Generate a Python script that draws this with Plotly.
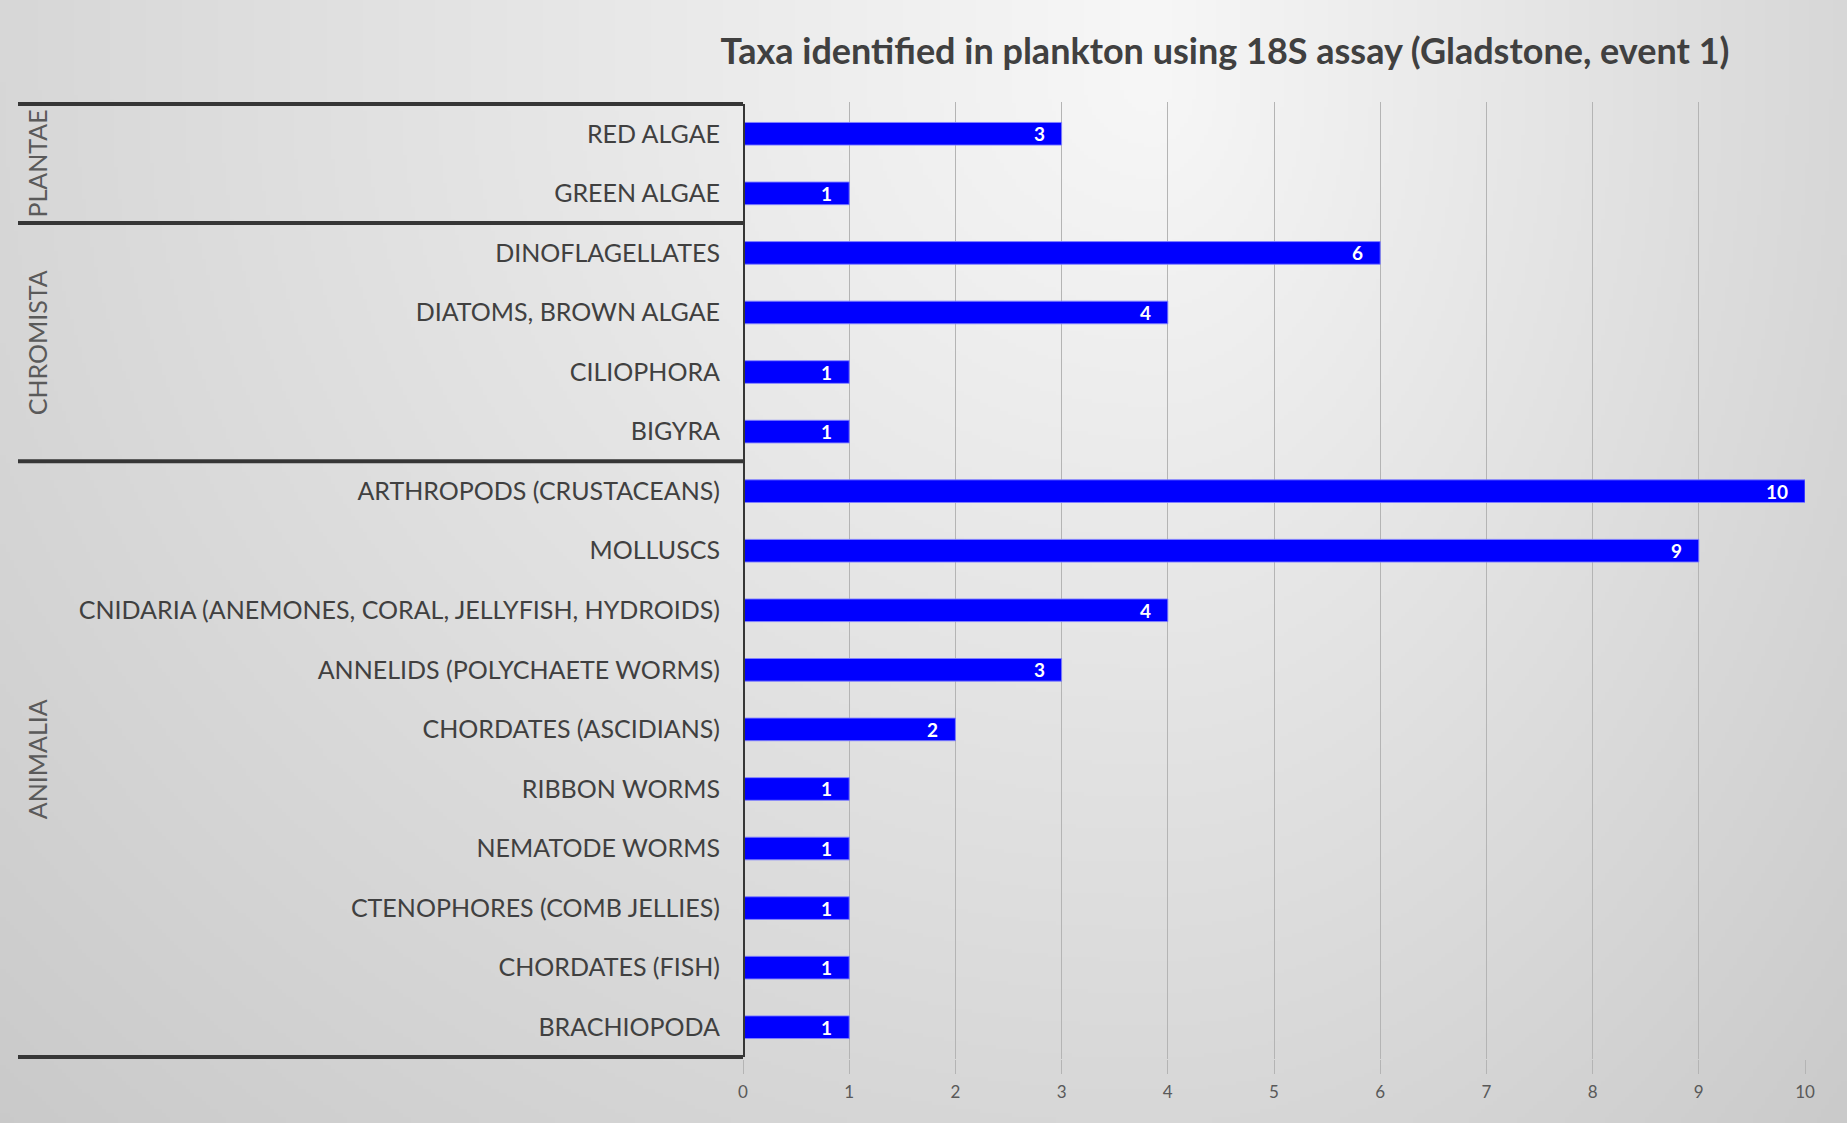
import base64
import struct
import zlib

import numpy as np
import plotly.graph_objects as go

# ---- data -------------------------------------------------------------
taxa = [
    "RED ALGAE",
    "GREEN ALGAE",
    "DINOFLAGELLATES",
    "DIATOMS, BROWN ALGAE",
    "CILIOPHORA",
    "BIGYRA",
    "ARTHROPODS (CRUSTACEANS)",
    "MOLLUSCS",
    "CNIDARIA (ANEMONES, CORAL, JELLYFISH, HYDROIDS)",
    "ANNELIDS (POLYCHAETE WORMS)",
    "CHORDATES (ASCIDIANS)",
    "RIBBON WORMS",
    "NEMATODE WORMS",
    "CTENOPHORES (COMB JELLIES)",
    "CHORDATES (FISH)",
    "BRACHIOPODA",
]
counts = [3, 1, 6, 4, 1, 1, 10, 9, 4, 3, 2, 1, 1, 1, 1, 1]

kingdoms = ["PLANTAE", "CHROMISTA", "ANIMALIA"]
kingdom_sizes = [2, 4, 10]

x_ticks = list(range(0, 11))

title_text = "Taxa identified in plankton using 18S assay (Gladstone, event 1)"

# ---- page geometry ----------------------------------------------------
W, H = 1847, 1123
M_L, M_R, M_T, M_B = 743, 42, 102, 64
plot_w = W - M_L - M_R
plot_h = H - M_T - M_B


def grey_png(arr):
    """Encode a 2-D uint8 array as a greyscale PNG data URI."""
    h, w = arr.shape
    raw = b"".join(b"\x00" + arr[r].tobytes() for r in range(h))

    def chunk(tag, data):
        c = struct.pack(">I", len(data)) + tag + data
        return c + struct.pack(">I", zlib.crc32(tag + data) & 0xFFFFFFFF)

    png = b"\x89PNG\r\n\x1a\n"
    png += chunk(b"IHDR", struct.pack(">IIBBBBB", w, h, 8, 0, 0, 0, 0))
    png += chunk(b"IDAT", zlib.compress(raw, 9))
    png += chunk(b"IEND", b"")
    return "data:image/png;base64," + base64.b64encode(png).decode()


# soft grey backdrop, brightest near the title, darker toward the edges
ds = 4
gx = np.arange(W // ds) * ds
gy = np.arange(H // ds) * ds
X, Y = np.meshgrid(gx, gy)
xc, yc = 1150.0, 80.0
hx = np.where(X < xc, (X - xc) / 1150.0, (X - xc) / 700.0)
vy = np.clip(Y - yc, 0, None) / 1040.0
r = np.sqrt(hx ** 2 + vy ** 2)
shade = np.clip(247 - 32 * r, 0, 255).astype(np.uint8)
backdrop = grey_png(shade)

# ---- figure -----------------------------------------------------------
fig = go.Figure()

fig.add_trace(
    go.Bar(
        x=counts,
        y=taxa,
        orientation="h",
        marker=dict(color="#0000FF", line=dict(color="rgba(130,130,255,0.9)", width=1)),
        hoverinfo="x+y",
    )
)

# value labels inside the bar ends
for name, val in zip(taxa, counts):
    fig.add_annotation(
        x=val, y=name, xref="x", yref="y",
        text=f"<b>{val}</b>", showarrow=False,
        xanchor="right", yanchor="middle", xshift=-15,
        font=dict(family="Lato", size=19, color="white"),
    )

# kingdom brackets: horizontal rules and rotated group names
line_col = "#363636"
px_left = (18 - M_L) / plot_w
edges = [-0.5]
for n in kingdom_sizes:
    edges.append(edges[-1] + n)
for e in edges:
    fig.add_shape(
        type="line", xref="paper", yref="y",
        x0=px_left, x1=0, y0=e, y1=e,
        line=dict(color=line_col, width=4),
    )
fig.add_shape(
    type="line", xref="x", yref="y",
    x0=0, x1=0, y0=edges[0], y1=edges[-1],
    line=dict(color=line_col, width=4),
)
for name, lo, hi in zip(kingdoms, edges[:-1], edges[1:]):
    fig.add_annotation(
        x=(37 - M_L) / plot_w, y=(lo + hi) / 2, xref="paper", yref="y",
        text=name, showarrow=False, textangle=-90,
        xanchor="center", yanchor="middle",
        font=dict(family="Lato", size=25, color="#5a5a5a"),
    )

fig.update_layout(
    width=W, height=H,
    margin=dict(l=M_L, r=M_R, t=M_T, b=M_B, autoexpand=False),
    paper_bgcolor="#dadada",
    plot_bgcolor="rgba(0,0,0,0)",
    showlegend=False,
    bargap=0.62,
    title=dict(
        text=f"<b>{title_text}</b>",
        x=1225 / W, xanchor="center",
        y=1 - 51 / H, yanchor="middle",
        font=dict(family="Lato", size=36, color="#404040"),
    ),
    images=[dict(
        source=backdrop, xref="paper", yref="paper",
        x=-M_L / plot_w, y=1 + M_T / plot_h,
        sizex=W / plot_w, sizey=H / plot_h,
        xanchor="left", yanchor="top",
        sizing="stretch", layer="below",
    )],
    xaxis=dict(
        range=[0, 10], tickvals=x_ticks, ticktext=[str(t) for t in x_ticks],
        showgrid=True, gridcolor="#b4b4b4", gridwidth=1,
        zeroline=False, showline=False,
        ticks="outside", ticklen=14, tickcolor="#b4b4b4", tickwidth=1,
        ticklabelstandoff=4,
        tickfont=dict(family="Lato", size=17, color="#595959"),
        automargin=False, fixedrange=True,
    ),
    yaxis=dict(
        categoryorder="array", categoryarray=taxa,
        autorange="reversed",
        showgrid=False, zeroline=False, showline=False,
        ticks="", ticklabelstandoff=22,
        tickfont=dict(family="Lato", size=25, color="#404040"),
        automargin=False, fixedrange=True,
    ),
)

fig.write_html("out.html")
